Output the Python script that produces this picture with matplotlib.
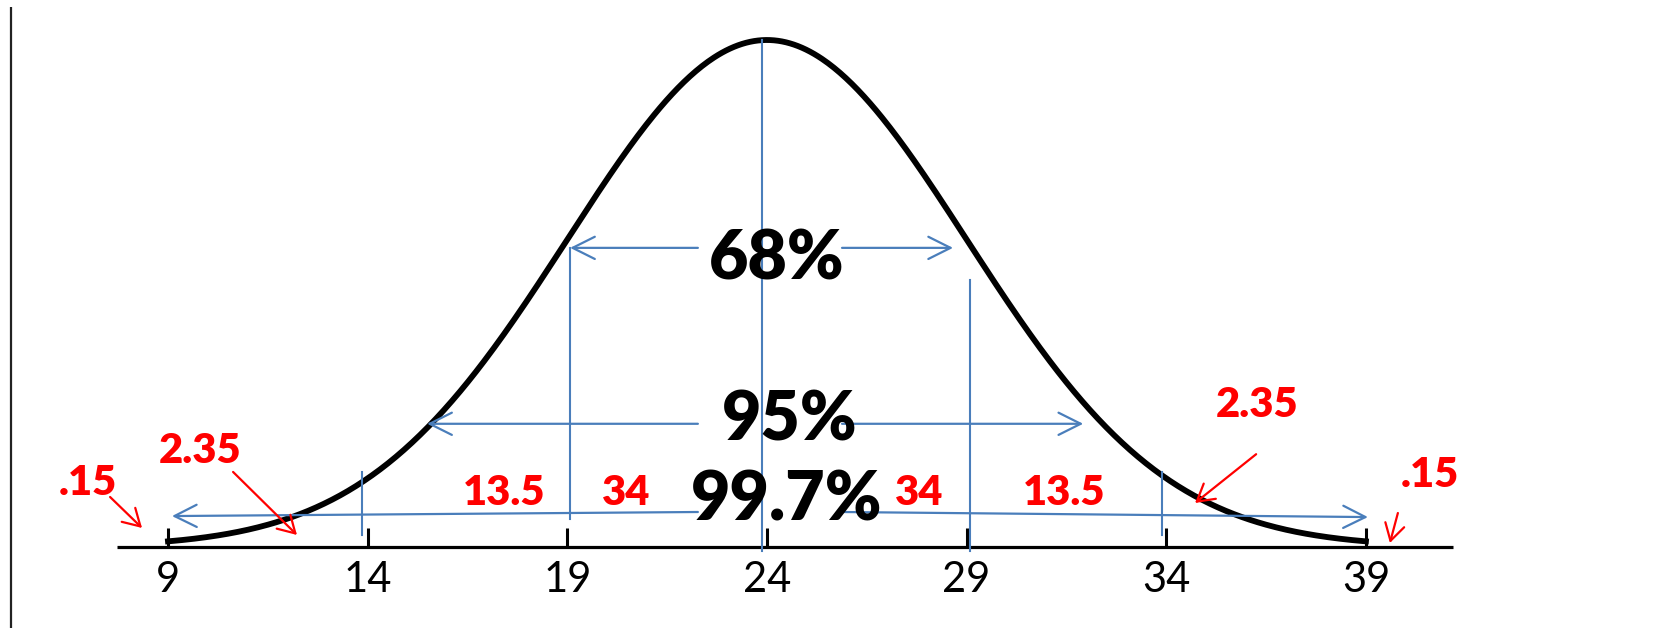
import numpy as np
import matplotlib
matplotlib.use("Agg")
import matplotlib.pyplot as plt
from matplotlib.patches import FancyArrowPatch

# ---- data ----
mean, sd = 24, 5
tick_values = [9, 14, 19, 24, 29, 34, 39]
tick_labels = ["9", "14", "19", "24", "29", "34", "39"]

# blue guide lines: x, top, bottom (height relative to peak)
guide_x = [13.86, 19.07, 23.88, 29.08, 33.89]
guide_top = [0.148, 0.590, 1.0, 0.527, 0.148]
guide_bottom = [0.024, 0.055, -0.008, -0.008, 0.024]

# blue range arrows: (x_from, h_from, x_to, h_to)
range_arrows = [
    (22.27, 0.590, 19.07, 0.590), (25.88, 0.590, 28.66, 0.590),
    (22.27, 0.243, 15.49, 0.243), (25.88, 0.243, 31.92, 0.243),
    (22.27, 0.069, 9.10, 0.061), (25.88, 0.069, 39.05, 0.059),
]
range_labels = ["68%", "95%", "99.7%"]
range_label_x = [24.25, 24.58, 24.50]
range_label_y = [0.527, 0.211, 0.053]

# red percentage labels
pct_labels = ["13.5", "34", "34", "13.5", "2.35", "2.35", ".15", ".15"]
pct_x = [17.41, 20.47, 27.81, 31.44, 9.80, 36.27, 7.00, 40.61]
pct_y = [0.083, 0.083, 0.083, 0.083, 0.166, 0.256, 0.103, 0.118]

# red pointer arrows
red_arrows = [
    (7.55, 0.0986, 8.35, 0.0375),
    (10.63, 0.148, 12.23, 0.0237),
    (36.25, 0.183, 34.72, 0.0868),
    (39.80, 0.067, 39.60, 0.0079),
]

BLUE = "#4A7EBB"
RED = "#FF0000"
FONT = "Lato"

fig = plt.figure(figsize=(16.81, 6.28), dpi=100)
ax = fig.add_axes([0, 0, 1, 1])
ax.set_xlim(4.793, 46.89)
ax.set_ylim(-0.1598, 1.0789)
ax.axis("off")

# left border line
ax.plot([5.07, 5.07], [-0.16, 1.065], color="#222222", lw=1.6, solid_capstyle="butt")

# curve
xs = np.linspace(9.0, 39.0, 600)
hs = np.exp(-0.5 * ((xs - mean) / sd) ** 2)
ax.plot(xs, hs, color="black", lw=4.2, zorder=2)

# baseline and ticks
ax.plot([7.72, 41.18], [0, 0], color="black", lw=2.3, zorder=3, solid_capstyle="butt")
for tv, tl in zip(tick_values, tick_labels):
    ax.plot([tv, tv], [0, 0.037], color="black", lw=2.2, zorder=3, solid_capstyle="butt")
    ax.text(tv, -0.089, tl, ha="center", va="baseline", fontsize=30,
            family=FONT, color="black")

# blue guides
for gx, gt, gb in zip(guide_x, guide_top, guide_bottom):
    ax.plot([gx, gx], [gb, gt], color=BLUE, lw=1.5, zorder=4)

for x0, y0, x1, y1 in range_arrows:
    ax.add_patch(FancyArrowPatch((x0, y0), (x1, y1),
                                 arrowstyle="->,head_length=0.8,head_width=0.4",
                                 mutation_scale=20, color=BLUE, lw=1.6,
                                 shrinkA=0, shrinkB=0, zorder=4))

for lab, lx, ly in zip(range_labels, range_label_x, range_label_y):
    ax.text(lx, ly, lab, ha="center", va="baseline", fontsize=49,
            fontweight="heavy", family=FONT, color="black", zorder=5)

for lab, lx, ly in zip(pct_labels, pct_x, pct_y):
    ax.text(lx, ly, lab, ha="center", va="baseline", fontsize=30,
            fontweight="heavy", family=FONT, color=RED, zorder=5)

for x0, y0, x1, y1 in red_arrows:
    ax.add_patch(FancyArrowPatch((x0, y0), (x1, y1),
                                 arrowstyle="->,head_length=0.6,head_width=0.35",
                                 mutation_scale=20, color=RED, lw=1.6,
                                 shrinkA=0, shrinkB=0, zorder=5))

fig.savefig("out.png", dpi=100, facecolor="white")
